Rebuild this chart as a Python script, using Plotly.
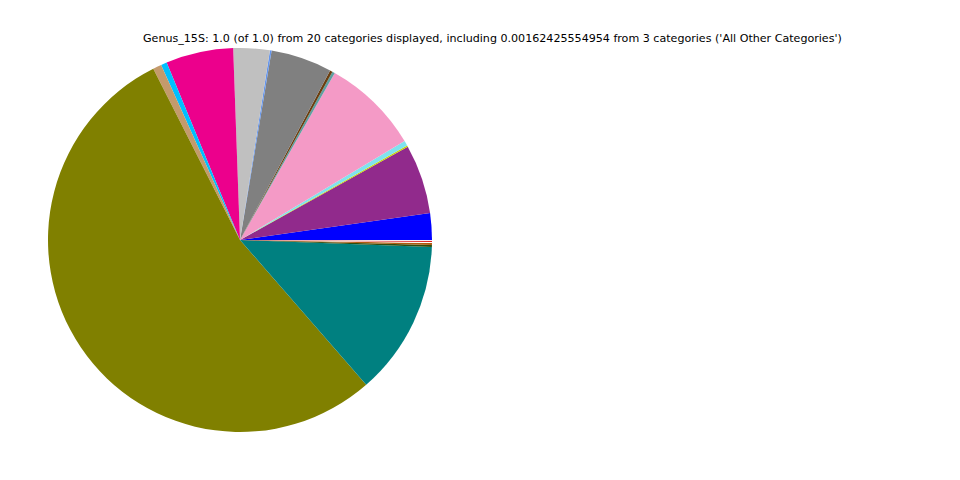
import plotly.graph_objects as go

categories = ["c1","c2","c3","c4","c5","c6","c7","c8","c9","c10",
              "c11","c12","c13","c14","c15","c16","c17","c18","c19","c20"]
values = [0.0225, 0.0583, 0.0011, 0.0042, 0.0817, 0.0022, 0.0022, 0.0514, 0.0014, 0.0306,
          0.0567, 0.0050, 0.0072, 0.5394, 0.1300, 0.0017, 0.0017, 0.0008, 0.0008, 0.0008]
colors = ["#0000ff", "#912a8c", "#c8d400", "#7fe3ee", "#f49ac6", "#5f9ea0", "#6b3e0f", "#808080",
          "#6495ed", "#c0c0c0", "#ec008c", "#00bfff", "#c49a6c", "#808000", "#008080", "#2e4d0e",
          "#b05a10", "#ffffff", "#e02020", "#f4e8f4"]
title = "Genus_15S: 1.0 (of 1.0) from 20 categories displayed, including 0.00162425554954 from 3 categories ('All Other Categories')"

# first slice should start at 3 o'clock and go counterclockwise
rotation = 90 - 360 * values[0] / sum(values)

off = 8  # page body margin
fig = go.Figure(go.Pie(
    labels=categories, values=values, sort=False, direction="counterclockwise",
    rotation=rotation, textinfo="none", hoverinfo="label+value",
    marker=dict(colors=colors, line=dict(width=0)),
    domain=dict(x=[(48 - off) / 960, (432 - off) / 960], y=[1 - (432 - off) / 480, 1 - (48 - off) / 480]),
    showlegend=False,
))
fig.add_annotation(text=title, x=(492.5 - off) / 960, y=1 - (39 - off) / 480, xref="paper", yref="paper",
                   showarrow=False, xanchor="center", yanchor="middle",
                   font=dict(family="DejaVu Sans", size=11.1, color="black"))
fig.update_layout(width=960, height=480, margin=dict(l=0, r=0, t=0, b=0),
                  paper_bgcolor="white", plot_bgcolor="white")
fig.write_html("out.html")
